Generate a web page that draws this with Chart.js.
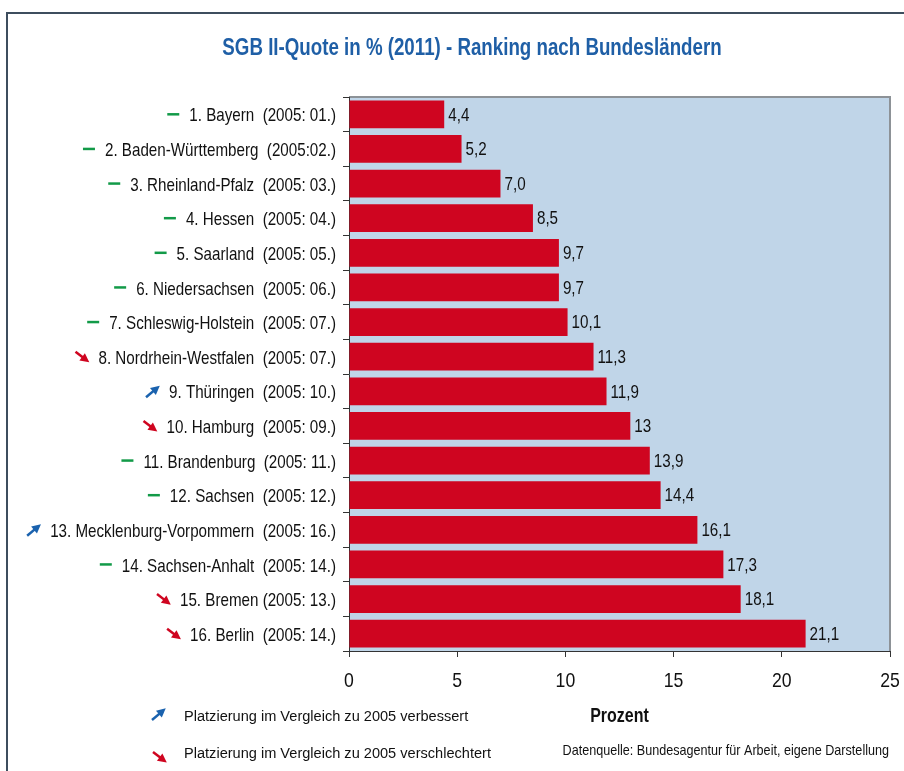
<!DOCTYPE html>
<html>
<head>
<meta charset="utf-8">
<script src="https://cdn.jsdelivr.net/npm/chart.js@4"></script>
<style>
  html, body { margin: 0; padding: 0; background: #fff; }
  canvas { display: block; }
</style>
</head>
<body>
<canvas id="chart" width="904" height="771"></canvas>
<script>
const categories = [
  '1. Bayern  (2005: 01.)',
  '2. Baden-Württemberg  (2005:02.)',
  '3. Rheinland-Pfalz  (2005: 03.)',
  '4. Hessen  (2005: 04.)',
  '5. Saarland  (2005: 05.)',
  '6. Niedersachsen  (2005: 06.)',
  '7. Schleswig-Holstein  (2005: 07.)',
  '8. Nordrhein-Westfalen  (2005: 07.)',
  '9. Thüringen  (2005: 10.)',
  '10. Hamburg  (2005: 09.)',
  '11. Brandenburg  (2005: 11.)',
  '12. Sachsen  (2005: 12.)',
  '13. Mecklenburg-Vorpommern  (2005: 16.)',
  '14. Sachsen-Anhalt  (2005: 14.)',
  '15. Bremen (2005: 13.)',
  '16. Berlin  (2005: 14.)'
];
const quote2011 = [4.4, 5.2, 7.0, 8.5, 9.7, 9.7, 10.1, 11.3, 11.9, 13, 13.9, 14.4, 16.1, 17.3, 18.1, 21.1];
const valueLabels = ['4,4', '5,2', '7,0', '8,5', '9,7', '9,7', '10,1', '11,3', '11,9', '13', '13,9', '14,4', '16,1', '17,3', '18,1', '21,1'];
// change of rank vs. 2005
const trend = ['same', 'same', 'same', 'same', 'same', 'same', 'same', 'down', 'up', 'down', 'same', 'same', 'up', 'same', 'down', 'down'];
const xTicks = [0, 5, 10, 15, 20, 25];

const FONT = '"Liberation Sans", Arial, sans-serif';
const RED = '#cf0520';
const GREEN = '#129a48';
const BLUE = '#1a62ae';

// no narrow font installed, so squeeze the text horizontally
function txt(ctx, s, x, y, o) {
  ctx.save();
  ctx.translate(x, y);
  ctx.scale(o.sx || 1, 1);
  ctx.font = (o.bold ? 'bold ' : '') + o.size + 'px ' + FONT;
  ctx.textAlign = o.align || 'left';
  ctx.textBaseline = 'middle';
  ctx.fillStyle = o.color || '#111';
  ctx.fillText(s, 0, 0);
  const w = ctx.measureText(s).width * (o.sx || 1);
  ctx.restore();
  return w;
}

function drawIcon(ctx, kind, right, y) {
  ctx.save();
  ctx.lineWidth = 2.5;
  if (kind === 'same') {
    ctx.strokeStyle = GREEN;
    ctx.beginPath();
    ctx.moveTo(right - 12, y);
    ctx.lineTo(right, y);
    ctx.stroke();
  } else {
    const col = kind === 'up' ? BLUE : RED;
    const x0 = right - 13, x1 = right;
    const y0 = kind === 'up' ? y + 6 : y - 5;
    const y1 = kind === 'up' ? y - 5 : y + 5;
    ctx.strokeStyle = col;
    ctx.fillStyle = col;
    const ang = Math.atan2(y1 - y0, x1 - x0);
    const c = Math.cos(ang), s = Math.sin(ang);
    ctx.beginPath();
    ctx.moveTo(x0, y0);
    ctx.lineTo(x1 - 4 * c, y1 - 4 * s);
    ctx.stroke();
    ctx.beginPath();
    ctx.moveTo(x1 + c, y1 + s);
    ctx.lineTo(x1 - 8 * c + 4.5 * s, y1 - 8 * s - 4.5 * c);
    ctx.lineTo(x1 - 8 * c - 4.5 * s, y1 - 8 * s + 4.5 * c);
    ctx.closePath();
    ctx.fill();
  }
  ctx.restore();
}

const decorations = {
  id: 'decorations',
  beforeDraw(chart) {
    const { ctx, chartArea: a } = chart;
    ctx.save();
    ctx.fillStyle = '#fff';
    ctx.fillRect(0, 0, chart.width, chart.height);
    // outer frame
    ctx.strokeStyle = '#3d4d5e';
    ctx.lineWidth = 2;
    ctx.beginPath();
    ctx.moveTo(chart.width, 13);
    ctx.lineTo(7, 13);
    ctx.lineTo(7, chart.height);
    ctx.stroke();
    // plot background
    ctx.fillStyle = '#c0d5e8';
    ctx.fillRect(a.left, a.top, a.right - a.left, a.bottom - a.top);
    ctx.strokeStyle = '#8d9297';
    ctx.lineWidth = 2;
    ctx.beginPath();
    ctx.moveTo(a.left, a.top);
    ctx.lineTo(a.right, a.top);
    ctx.lineTo(a.right, a.bottom);
    ctx.stroke();
    ctx.restore();
  },
  afterDatasetsDraw(chart) {
    const { ctx } = chart;
    const meta = chart.getDatasetMeta(0);
    meta.data.forEach((bar, i) => {
      txt(ctx, valueLabels[i], bar.x + 4, bar.y + 1, { size: 19, sx: 0.8 });
    });
  },
  afterDraw(chart) {
    const { ctx, chartArea: a } = chart;
    const y = chart.scales.y;
    const x = chart.scales.x;

    txt(ctx, 'SGB II-Quote in % (2011) - Ranking nach Bundesländern', 472, 48,
      { size: 24, bold: true, sx: 0.78, align: 'center', color: '#1f5fa6' });

    categories.forEach((lab, i) => {
      const py = y.getPixelForTick(i);
      const w = txt(ctx, lab, 336, py + 2, { size: 18.5, sx: 0.82, align: 'right' });
      drawIcon(ctx, trend[i], 336 - w - 10, py);
    });

    x.ticks.forEach(t => {
      txt(ctx, String(t.value), x.getPixelForValue(t.value), 681, { size: 21, sx: 0.84, align: 'center' });
    });
    txt(ctx, 'Prozent', (a.left + a.right) / 2, 716, { size: 20, bold: true, sx: 0.8, align: 'center' });

    // notes under the chart
    drawIcon(ctx, 'up', 165, 714);
    drawIcon(ctx, 'down', 166, 757);
    txt(ctx, 'Platzierung im Vergleich zu 2005 verbessert', 184, 716.5, { size: 15.5, sx: 0.94 });
    txt(ctx, 'Platzierung im Vergleich zu 2005 verschlechtert', 184, 753.5, { size: 15.5, sx: 0.94 });
    txt(ctx, 'Datenquelle: Bundesagentur für Arbeit, eigene Darstellung', 889, 751, { size: 15, sx: 0.84, align: 'right' });
  }
};

new Chart(document.getElementById('chart'), {
  type: 'bar',
  data: {
    labels: categories,
    datasets: [{
      data: quote2011,
      backgroundColor: RED,
      borderWidth: 0,
      barPercentage: 0.8,
      categoryPercentage: 1.0
    }]
  },
  options: {
    indexAxis: 'y',
    responsive: false,
    animation: false,
    devicePixelRatio: 1,
    layout: { padding: { left: 0, right: 14, top: 97, bottom: 0 } },
    plugins: {
      legend: { display: false },
      tooltip: { enabled: false },
      title: { display: false }
    },
    scales: {
      x: {
        min: 0,
        max: 25,
        afterFit(scale) { scale.height = 120; },
        afterBuildTicks(scale) { scale.ticks = xTicks.map(v => ({ value: v })); },
        ticks: { display: false },
        grid: { drawOnChartArea: false, tickLength: 6, color: '#333' },
        border: { color: '#333', width: 1 }
      },
      y: {
        afterFit(scale) { scale.width = 349; },
        ticks: { display: false, autoSkip: false },
        grid: { drawOnChartArea: false, tickLength: 6, color: '#333' },
        border: { color: '#333', width: 1 }
      }
    }
  },
  plugins: [decorations]
});
</script>
</body>
</html>
